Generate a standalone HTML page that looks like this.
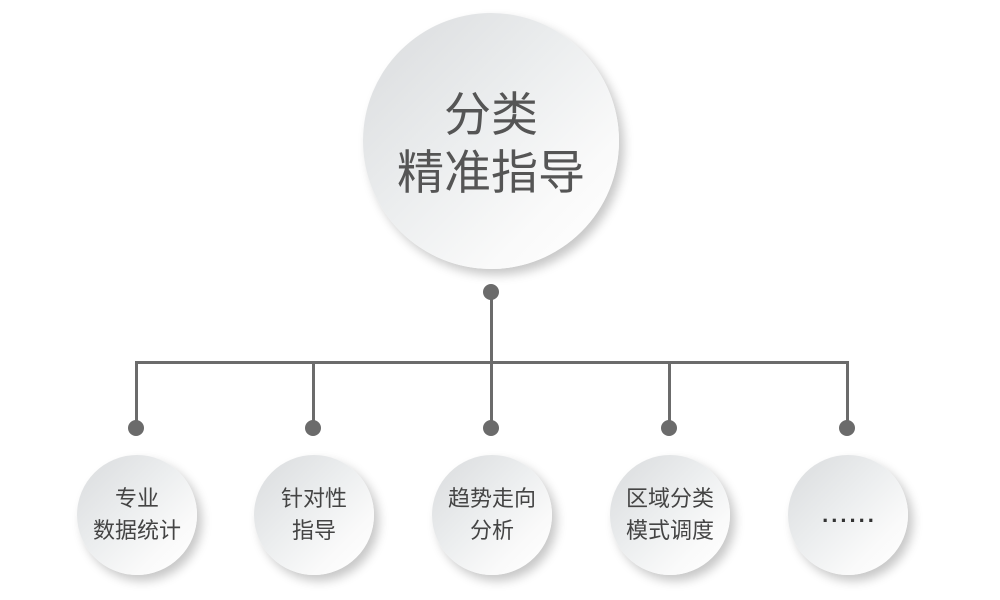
<!DOCTYPE html>
<html><head><meta charset="utf-8"><style>
body{margin:0;width:1000px;height:600px;background:#fff;position:relative;overflow:hidden;font-family:"Liberation Sans","Noto Sans CJK SC",sans-serif}
.c{position:absolute;border-radius:50%;background:linear-gradient(135deg,#d9dbdd 0%,#eceeef 45%,#fafafa 75%,#fff 100%);box-shadow:5px 6px 10px rgba(0,0,0,0.22);display:flex;align-items:center;justify-content:center;text-align:center;color:#444}
.s{width:120px;height:120px;top:455px;font-size:22px;line-height:32px}
.m{left:363px;top:13px;width:256px;height:256px;font-size:47px;line-height:58px;color:#555}
.l{position:absolute;background:#6b6b6b}
.d{position:absolute;width:16px;height:16px;border-radius:50%;background:#6b6b6b}
</style></head><body>
<div class="c m"><div style="padding-top:6px">分类<br>精准指导</div></div>
<div class="d" style="left:483px;top:284px"></div>
<div class="l" style="left:490px;top:292px;width:3px;height:71px"></div>
<div class="l" style="left:135px;top:361px;width:714px;height:3px"></div>
<div class="l" style="left:135px;top:361px;width:3px;height:67px"></div>
<div class="l" style="left:312px;top:361px;width:3px;height:67px"></div>
<div class="l" style="left:490px;top:361px;width:3px;height:67px"></div>
<div class="l" style="left:668px;top:361px;width:3px;height:67px"></div>
<div class="l" style="left:846px;top:361px;width:3px;height:67px"></div>
<div class="d" style="left:128px;top:420px"></div>
<div class="d" style="left:305px;top:420px"></div>
<div class="d" style="left:483px;top:420px"></div>
<div class="d" style="left:661px;top:420px"></div>
<div class="d" style="left:839px;top:420px"></div>
<div class="c s" style="left:77px"><div>专业<br>数据统计</div></div>
<div class="c s" style="left:254px"><div>针对性<br>指导</div></div>
<div class="c s" style="left:432px"><div>趋势走向<br>分析</div></div>
<div class="c s" style="left:610px"><div>区域分类<br>模式调度</div></div>
<div class="c s" style="left:788px"><div style="font-size:22px;font-weight:bold;letter-spacing:3px;padding-left:3px;color:#333">......</div></div>
</body></html>
